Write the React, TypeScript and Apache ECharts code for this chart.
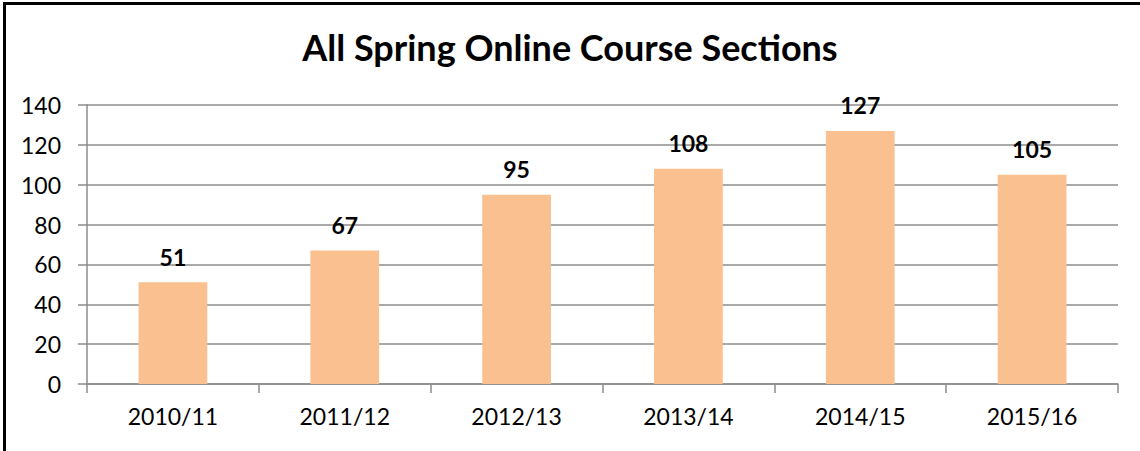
import React, { useEffect, useRef } from "react";
import * as echarts from "echarts";

const title = "All Spring Online Course Sections";
const categories = ["2010/11", "2011/12", "2012/13", "2013/14", "2014/15", "2015/16"];
const sections = [51, 67, 95, 108, 127, 105];
const yMin = 0;
const yMax = 140;
const yStep = 20;

export default function App() {
  const ref = useRef<HTMLDivElement>(null);
  useEffect(() => {
    document.body.style.margin = "0";
    const chart = echarts.init(ref.current!, null, { renderer: "svg" });
    const font = "Lato, 'Open Sans', sans-serif";
    const gray = "#8c8c8c";
    chart.setOption({
      animation: false,
      backgroundColor: "#ffffff",
      title: {
        text: title,
        left: "center",
        top: 24,
        textStyle: { fontFamily: font, fontWeight: "bold", fontSize: 36, color: "#000" },
      },
      graphic: [
        {
          type: "rect",
          shape: { x: 4.5, y: 3.5, width: 1200, height: 500 },
          style: { fill: "none", stroke: "#000", lineWidth: 3 },
          silent: true,
        },
      ],
      grid: { left: 87, right: 22, top: 105, bottom: 67 },
      xAxis: {
        type: "category",
        data: categories,
        axisLine: { show: true, lineStyle: { color: gray, width: 1.5 } },
        axisTick: { show: true, alignWithLabel: false, length: 9, lineStyle: { color: gray, width: 1.5 } },
        axisLabel: { color: "#000", fontFamily: font, fontSize: 23, margin: 20 },
      },
      yAxis: {
        type: "value",
        min: yMin,
        max: yMax,
        interval: yStep,
        axisLine: { show: true, lineStyle: { color: gray, width: 1.5 } },
        axisTick: { show: true, length: 9, lineStyle: { color: gray, width: 1.5 } },
        splitLine: { show: true, lineStyle: { color: gray, width: 1.5 } },
        axisLabel: { color: "#000", fontFamily: font, fontSize: 23, margin: 26 },
      },
      series: [
        {
          type: "bar",
          data: sections,
          barWidth: "40%",
          itemStyle: { color: "#FAC090" },
          label: {
            show: true,
            position: "top",
            distance: 14,
            color: "#000",
            fontFamily: font,
            fontWeight: "bold",
            fontSize: 23,
          },
        },
      ],
    });
    return () => chart.dispose();
  }, []);
  return <div ref={ref} style={{ width: 1140, height: 451 }} />;
}
